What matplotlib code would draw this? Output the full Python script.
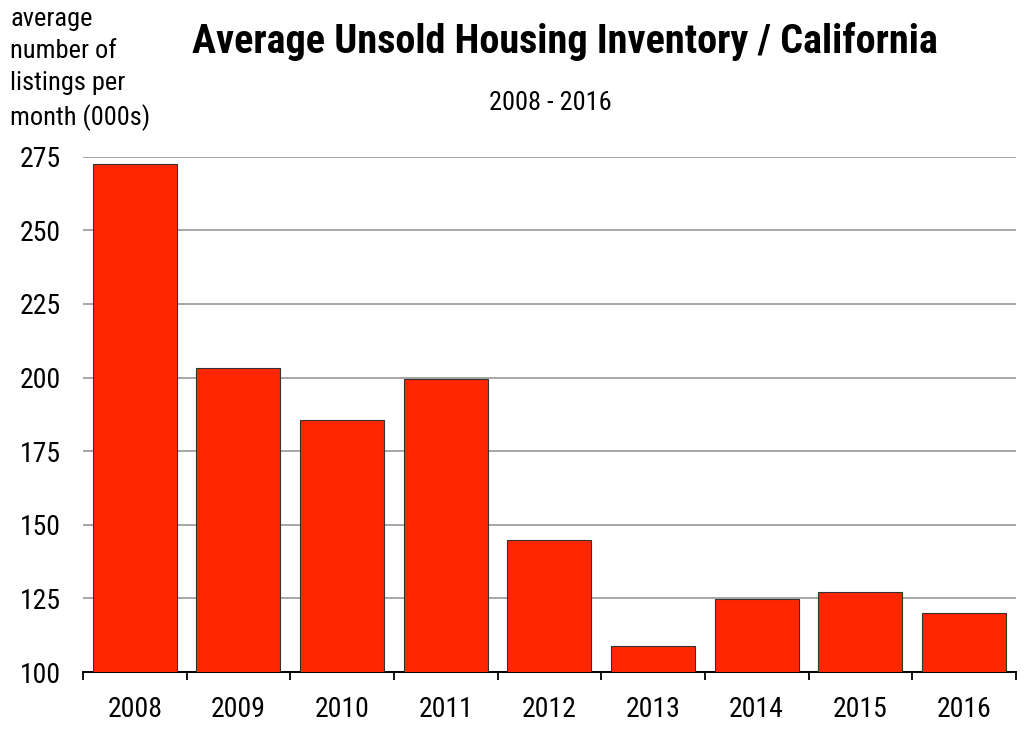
import matplotlib
matplotlib.use("Agg")
import matplotlib.pyplot as plt
from matplotlib.ticker import MultipleLocator, FixedLocator

plt.rcParams["font.family"] = ["Roboto Condensed", "Archivo Narrow", "Liberation Sans", "DejaVu Sans"]

years = ["2008", "2009", "2010", "2011", "2012", "2013", "2014", "2015", "2016"]
listings = [272.6, 203.3, 185.6, 199.6, 144.9, 108.7, 124.7, 127.2, 120.0]

RED = "#FF2600"

fig = plt.figure(figsize=(10.24, 7.33), dpi=100)
ax = fig.add_axes([0.081, 0.0832, 0.911, 0.703])

x = range(len(years))
ax.bar(x, listings, width=0.81, color=RED, edgecolor="#333333", linewidth=0.8, zorder=3)

ax.set_ylim(100, 275)
ax.set_xlim(-0.5, len(years) - 0.5)
ax.yaxis.set_major_locator(MultipleLocator(25))
ax.grid(axis="y", color="#a6a6a6", linewidth=1.4, zorder=0)
ax.set_axisbelow(True)

ax.set_xticks(list(x))
ax.set_xticklabels(years)
ax.xaxis.set_minor_locator(FixedLocator([i - 0.5 for i in range(len(years) + 1)]))
ax.tick_params(axis="x", which="major", length=0, pad=17, labelsize=20)
ax.tick_params(axis="x", which="minor", length=6, width=1.3, color="black")
ax.tick_params(axis="y", length=0, pad=16, labelsize=20)

for s in ["top", "right", "left"]:
    ax.spines[s].set_visible(False)
ax.spines["bottom"].set_linewidth(1.4)
ax.spines["bottom"].set_color("black")

fig.text(0.552, 0.943, "Average Unsold Housing Inventory / California",
         ha="center", va="center", fontsize=29, weight="bold")
fig.text(0.537, 0.859, "2008 - 2016", ha="center", va="center", fontsize=19)
fig.text(0.0098, 0.99, "average\nnumber of\nlistings per\nmonth (000s)",
         ha="left", va="top", fontsize=19, linespacing=1.42)

fig.savefig("out.png", dpi=100)
